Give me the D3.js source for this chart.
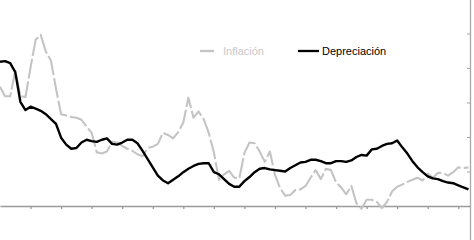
<!DOCTYPE html>
<html>
<head>
<meta charset="utf-8">
<script src="https://cdn.jsdelivr.net/npm/d3@7"></script>
<style>
  body { margin: 0; background: #fff; }
  svg { display: block; font-family: "Liberation Sans", Arial, sans-serif; }
</style>
</head>
<body>
<svg width="474" height="240"></svg>
<script>
// bimonthly observations, starting Jan 1995 (percent)
const startYear = 1995
const stepYears = 1 / 6

const depreciacion = [
  20.9, 21.0, 20.7, 19.4, 15.1, 13.9, 14.4, 14.1, 13.8, 13.3,
  12.6, 11.9, 9.9, 8.9, 8.3, 8.4, 9.2, 9.6, 9.4, 9.3,
  9.6, 9.8, 9.0, 8.9, 9.2, 9.6, 9.6, 9.1, 8.0, 6.8,
  5.6, 4.4, 3.7, 3.3, 3.8, 4.3, 4.9, 5.4, 5.8, 6.1,
  6.2, 6.2, 4.9, 4.6, 3.9, 3.2, 2.8, 2.8, 3.6, 4.2,
  4.9, 5.4, 5.5, 5.3, 5.2, 5.1, 5.0, 5.5, 5.9, 6.3,
  6.4, 6.7, 6.7, 6.5, 6.2, 6.2, 6.5, 6.5, 6.4, 6.6,
  7.1, 7.4, 7.3, 8.2, 8.3, 8.7, 9.0, 9.1, 9.5, 8.5,
  7.6, 6.5, 5.6, 4.9, 4.3, 4.0, 3.9, 3.6, 3.4, 3.3,
  3.0, 2.7, 2.4
]

const inflacion = [
  17.3, 15.9, 15.9, 19.6, 15.9, 15.8, 20.1, 24.1, 24.8, 22.4,
  21.1, 17.0, 13.3, 13.1, 12.9, 12.8, 12.5, 11.5, 10.6, 7.8,
  7.6, 7.9, 9.3, 9.2, 8.7, 8.3, 8.0, 7.5, 7.2, 8.4,
  8.6, 9.0, 10.6, 10.3, 9.8, 10.7, 12.1, 15.7, 12.8, 13.7,
  12.6, 10.6, 7.8, 3.8, 4.6, 5.1, 4.1, 4.0, 7.7, 9.2,
  9.1, 7.9, 6.4, 7.9, 4.5, 2.6, 1.5, 1.6, 2.3, 2.4,
  2.9, 4.1, 5.2, 3.9, 5.4, 5.2, 3.4, 2.7, 1.7, 2.9,
  0.4, -0.4, 0.9, 0.9, 0.6, -0.3, 0.6, 2.1, 2.8, 3.1,
  3.5, 3.8, 4.1, 3.7, 4.7, 4.1, 4.8, 4.8, 4.4, 4.9,
  5.6, 5.5, 5.6
]

const yearTicks = d3.range(1996, 2011)
const valueTicks = [5, 10, 15, 20, 25, 30]

const seriesNames = ['Inflación', 'Depreciación']
const seriesColors = ['#c4c4c4', '#000000']
const seriesDash = ['20,3', null]

const svg = d3.select('svg')

const x = d3.scaleLinear()
  .domain([startYear, 2010.4])
  .range([0, 470.5])

const y = d3.scaleLinear()
  .domain([0, 30])
  .range([206, -1])

const toPoints = vals => vals.map((v, i) => ({ year: startYear + i * stepYears, value: v }))

// x axis, no labels showing in this crop
svg.append('g')
  .attr('transform', `translate(0,${y(0)})`)
  .call(d3.axisBottom(x).tickValues(yearTicks).tickSize(3).tickSizeOuter(0).tickFormat(''))
  .call(g => g.selectAll('path, line').attr('stroke', '#9a9a9a').attr('stroke-width', 1.3))

// right axis, ticks pointing inward
svg.append('g')
  .attr('transform', `translate(${x(2010.4) - 0.5},0)`)
  .call(d3.axisRight(y).tickValues(valueTicks).tickSizeInner(-3).tickSizeOuter(0).tickFormat(''))
  .call(g => g.select('.domain').remove())
  .call(g => g.selectAll('line').attr('stroke', '#a8a8a8'))
  .call(g => g.append('line')
    .attr('x1', 0.5).attr('x2', 0.5)
    .attr('y1', 0).attr('y2', 240)
    .attr('stroke', '#a8a8a8').attr('stroke-width', 1.3))

const line = d3.line()
  .x(d => x(d.year))
  .y(d => y(d.value))

const series = [inflacion, depreciacion]

svg.selectAll('path.serie')
  .data(series)
  .enter().append('path')
    .attr('class', 'serie')
    .attr('d', d => line(toPoints(d)))
    .attr('fill', 'none')
    .attr('stroke', (d, i) => seriesColors[i])
    .attr('stroke-width', (d, i) => i === 0 ? 2.1 : 2.4)
    .attr('stroke-dasharray', (d, i) => seriesDash[i])
    .attr('stroke-linejoin', 'round')

// legend
const legend = svg.append('g')
const legendX = [200, 298]
const legendLen = [14, 21]

seriesNames.forEach((name, i) => {
  legend.append('line')
    .attr('x1', legendX[i]).attr('x2', legendX[i] + legendLen[i])
    .attr('y1', 51).attr('y2', 51)
    .attr('stroke', seriesColors[i])
    .attr('stroke-width', 2.3)
  legend.append('text')
    .attr('x', legendX[i] + legendLen[i] + (i === 0 ? 9 : 3))
    .attr('y', 55)
    .attr('font-size', 11)
    .attr('fill', i === 0 ? '#c8c8c8' : '#000')
    .text(name)
})
</script>
</body>
</html>
